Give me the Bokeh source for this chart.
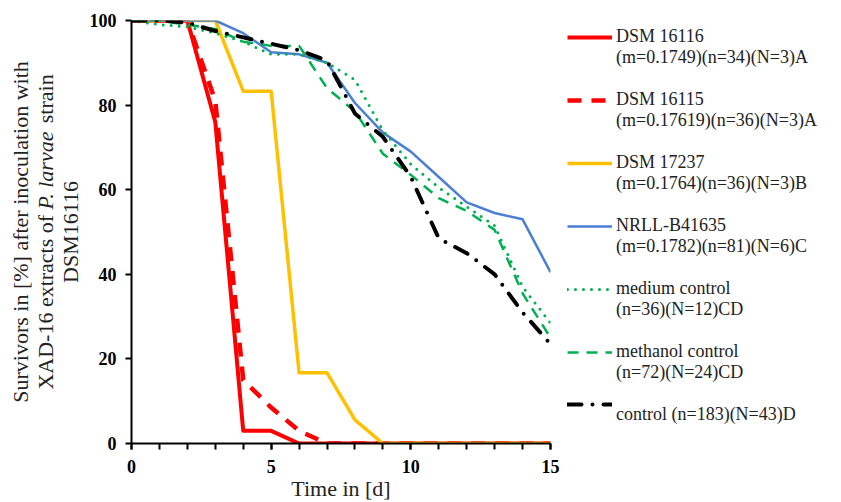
import math
from bokeh.plotting import figure
from bokeh.layouts import row
from bokeh.models import (Range1d, FixedTicker, Legend, LegendItem, ColumnDataSource)
from bokeh.core.properties import value
from bokeh.embed import file_html
from bokeh.resources import INLINE

# ---------------- data ----------------
days = list(range(16))
dsm16116 = [100, 100, 100, 76, 3, 3, 0, 0, 0, 0, 0, 0, 0, 0, 0, 0]
dsm16115 = [100, 100, 100, 81, 15, 8.5, 3, 0, 0, 0, 0, 0, 0, 0, 0, 0]
dsm17237 = [100, 100, 100, 100, 83.3, 83.3, 16.7, 16.7, 5.6, 0, 0, 0, 0, 0, 0, 0]
nrll = [100, 100, 100, 100, 97, 92.5, 92, 90, 80.5, 73.5, 69, 63, 57, 54.5, 53, 40.5]
medium = [100, 99, 98.5, 97, 95, 92, 92, 90, 86, 74, 66, 60.5, 56, 51.5, 37, 28.5]
methanol = [100, 100, 99, 98, 95, 94, 94, 84, 78.5, 68.5, 63.5, 58, 55, 50.5, 35.5, 25]
control = [100, 100, 99.5, 97.5, 96, 94.5, 93, 90.5, 78, 72.5, 63, 48.5, 45, 40, 31, 23.5]

legend_labels = [
    "DSM 16116\n(m=0.1749)(n=34)(N=3)A",
    "DSM 16115\n(m=0.17619)(n=36)(N=3)A",
    "DSM 17237\n(m=0.1764)(n=36)(N=3)B",
    "NRLL-B41635\n(m=0.1782)(n=81)(N=6)C",
    "medium control\n(n=36)(N=12)CD",
    "methanol control\n(n=72)(N=24)CD",
    "control (n=183)(N=43)D\n",
]
x_ticks = [0, 5, 10, 15]
y_ticks = [0, 20, 40, 60, 80, 100]
x_title = "Time in [d]"
y_title_lines = ["Survivors in [%] after inoculation with",
                 "XAD-16 extracts of", "P. larvae", "strain", "DSM16116"]

SERIF = "Liberation Serif"
LEFT_W = 82
FRAME_W, FRAME_H = 419, 423
PX_PER_UNIT = FRAME_H / 100.0

y_range = Range1d(0, 100)

# ---------------- y-axis title panel (mixed roman / italic text) ----------------
t = figure(frame_width=LEFT_W, frame_height=FRAME_H, output_backend="svg", toolbar_location=None,
           x_range=Range1d(0, LEFT_W), y_range=y_range,
           x_axis_type=None, y_axis_type=None,
           min_border_left=0, min_border_right=0, min_border_top=20, min_border_bottom=59)
t.outline_line_color = None
t.xgrid.visible = False
t.ygrid.visible = False
mid = 50.0
tsrc = ColumnDataSource(dict(
    x=[20, 45, 45, 45, 70],
    y=[mid, mid - 157.6 / PX_PER_UNIT, mid + 22.6 / PX_PER_UNIT, mid + 108.8 / PX_PER_UNIT, mid],
    text=y_title_lines,
    align=["center", "left", "left", "left", "center"],
    style=["normal", "normal", "italic", "normal", "normal"],
))
t.text("x", "y", text="text", source=tsrc, angle=math.pi / 2,
       text_align="align", text_font_style="style", text_baseline="middle",
       text_font=value(SERIF), text_font_size="22px", text_color="#222222")

# ---------------- main plot ----------------
p = figure(frame_width=FRAME_W, frame_height=FRAME_H, output_backend="svg", toolbar_location=None,
           x_range=Range1d(0, 15), y_range=y_range,
           min_border_left=131 - LEFT_W, min_border_right=291,
           min_border_top=20, min_border_bottom=59)
p.outline_line_color = None
p.xgrid.visible = False
p.ygrid.visible = False

styles = [
    (dsm16116, dict(line_color="#FF0000", line_width=4)),
    (dsm16115, dict(line_color="#FF0000", line_width=4.5, line_dash="14 10")),
    (dsm17237, dict(line_color="#FFC000", line_width=3.5)),
    (nrll, dict(line_color="#4A7FD4", line_width=2.5)),
    (medium, dict(line_color="#00B050", line_width=3, line_dash="0 8", line_cap="round")),
    (methanol, dict(line_color="#00B050", line_width=2.5, line_dash="11 8")),
    (control, dict(line_color="black", line_width=4, line_dash="14 11 0 11", line_cap="round")),
]
renderers = []
for ys, st in styles:
    src = ColumnDataSource(dict(x=days, y=ys))
    r = p.line("x", "y", source=src, line_join="round", **st)
    renderers.append(r)

for ax in (p.xaxis[0], p.yaxis[0]):
    ax.axis_line_color = "black"
    ax.axis_line_width = 2
    ax.major_tick_line_color = "black"
    ax.major_tick_line_width = 2
    ax.minor_tick_line_color = "black"
    ax.minor_tick_line_width = 2
    ax.major_tick_in = 0
    ax.major_tick_out = 6
    ax.minor_tick_in = 0
    ax.minor_tick_out = 6
    ax.major_label_text_font = SERIF
    ax.major_label_text_font_style = "bold"
    ax.major_label_text_font_size = "18px"
    ax.major_label_text_color = "black"

p.xaxis.ticker = FixedTicker(ticks=x_ticks, minor_ticks=days)
p.yaxis.ticker = FixedTicker(ticks=y_ticks, minor_ticks=[])
p.xaxis.major_label_standoff = 10
p.yaxis.major_label_standoff = 9
p.xaxis.axis_label = x_title
p.xaxis.axis_label_standoff = 0
p.xaxis.axis_label_text_font = SERIF
p.xaxis.axis_label_text_font_style = "normal"
p.xaxis.axis_label_text_font_size = "22px"
p.xaxis.axis_label_text_color = "#222222"

# leading blank line keeps each sample level with the first text line
items = [LegendItem(label="\n" + lab, renderers=[r]) for lab, r in zip(legend_labels, renderers)]
legend = Legend(items=items, location=(17, 18),
                label_text_font=SERIF, label_text_font_size="18px",
                label_text_color="#222222",
                glyph_width=45, glyph_height=20, label_standoff=4, spacing=0,
                padding=0, margin=0, border_line_alpha=0, background_fill_alpha=0)
p.add_layout(legend, "right")

layout = row(t, p, spacing=0)
open("out.html", "w").write(file_html(layout, INLINE))
